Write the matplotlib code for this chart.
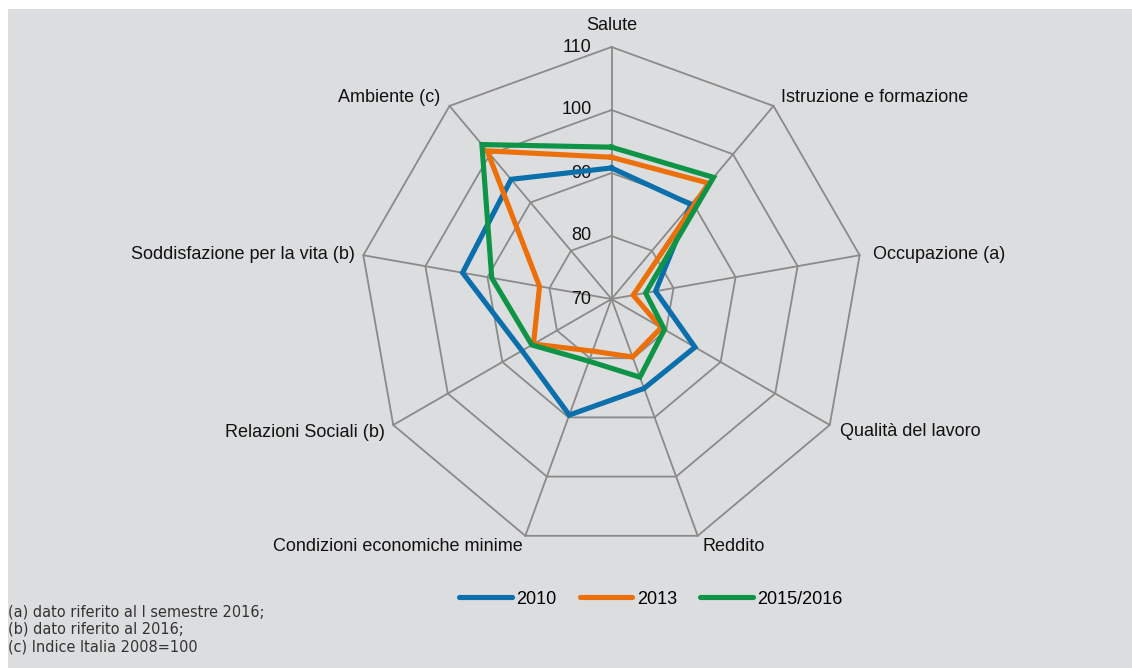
import numpy as np
import matplotlib
matplotlib.use("Agg")
import matplotlib.pyplot as plt
from matplotlib.patches import Rectangle
from matplotlib.lines import Line2D

categories = ["Salute", "Istruzione e formazione", "Occupazione (a)", "Qualità del lavoro",
              "Reddito", "Condizioni economiche minime", "Relazioni Sociali (b)",
              "Soddisfazione per la vita (b)", "Ambiente (c)"]
series_names = ["2010", "2013", "2015/2016"]
v2010 = [90.8, 89.6, 77.1, 85.3, 85.1, 89.6, 86.4, 94.0, 94.8]
v2013 = [92.5, 94.0, 73.5, 79.1, 79.8, 78.8, 84.3, 81.6, 100.7]
v2016 = [94.1, 95.2, 75.5, 79.7, 83.2, 80.5, 84.6, 89.3, 102.0]
ticks = [70, 80, 90, 100, 110]
colors = ["#0A6FAA", "#EC700A", "#0E9447"]

W, H = 1132, 668
fig = plt.figure(figsize=(W / 100, H / 100), dpi=100, facecolor="white")
fig.patches.append(Rectangle((8 / W, 0), 1 - 8 / W, 1 - 9 / H, transform=fig.transFigure,
                             facecolor="#DCDDDF", edgecolor="none", zorder=-5))

cx, cy, R = 611.5, 299.0, 252.0
ax = fig.add_axes([(cx - R) / W, (H - cy - R) / H, 2 * R / W, 2 * R / H], projection="polar")
ax.set_zorder(2)
ax.patch.set_visible(False)
ax.set_theta_zero_location("N")
ax.set_theta_direction(-1)
ax.set_ylim(ticks[0], ticks[-1])
ax.grid(False)
ax.spines["polar"].set_visible(False)
ax.set_xticks([])
ax.set_yticks([])

n = len(categories)
angles = np.arange(n) * 2 * np.pi / n
closed = np.append(angles, angles[0])
gc = "#8A8A8A"
for t in ticks:
    ax.plot(closed, [t] * (n + 1), color=gc, lw=1.3, zorder=1, clip_on=False)
for a in angles:
    ax.plot([a, a], [ticks[0], ticks[-1]], color=gc, lw=1.3, zorder=1, clip_on=False)

for vals, c, name in zip([v2010, v2013, v2016], colors, series_names):
    ax.plot(closed, vals + vals[:1], color=c, lw=3.7, zorder=3, solid_joinstyle="miter",
            clip_on=False, label=name)

fs = 13.0
for t in ticks:
    ax.annotate(str(t), xy=(0, t), xytext=(-20, 0), textcoords="offset pixels",
                ha="right", va="center", fontsize=fs, family="Liberation Sans", color="#111111",
                zorder=2, annotation_clip=False)

offsets = [(0, 22, "center"), (8, 8, "left"), (13, 1, "left"), (10, -7, "left"),
           (5, -11, "left"), (-3, -11, "right"), (-8, -7, "right"), (-8, 1, "right"),
           (-9, 8, "right")]
for a, lab, (dx, dy, ha) in zip(angles, categories, offsets):
    ax.annotate(lab, xy=(a, ticks[-1]), xytext=(dx, dy), textcoords="offset pixels",
                ha=ha, va="center", fontsize=fs, family="Liberation Sans", color="#111111",
                annotation_clip=False)

handles = [Line2D([], [], color=c, lw=3.7, solid_capstyle="round") for c in colors]
fig.legend(handles, series_names, loc="center", bbox_to_anchor=(651 / W, (H - 599) / H),
           ncol=3, frameon=False, prop={"family": "Liberation Sans", "size": fs},
           handlelength=2.9, handletextpad=0.25, columnspacing=1.3)

notes = ["(a) dato riferito al I semestre 2016;", "(b) dato riferito al 2016;",
         "(c) Indice Italia 2008=100"]
for i, s in enumerate(notes):
    fig.text(8 / W, (H - 612 - i * 17.5) / H, s, ha="left", va="center", fontsize=11.6,
             family=["Liberation Sans Narrow", "DejaVu Sans"], stretch="condensed",
             color="#333333")

fig.savefig("out.png", dpi=100, facecolor=fig.get_facecolor())
